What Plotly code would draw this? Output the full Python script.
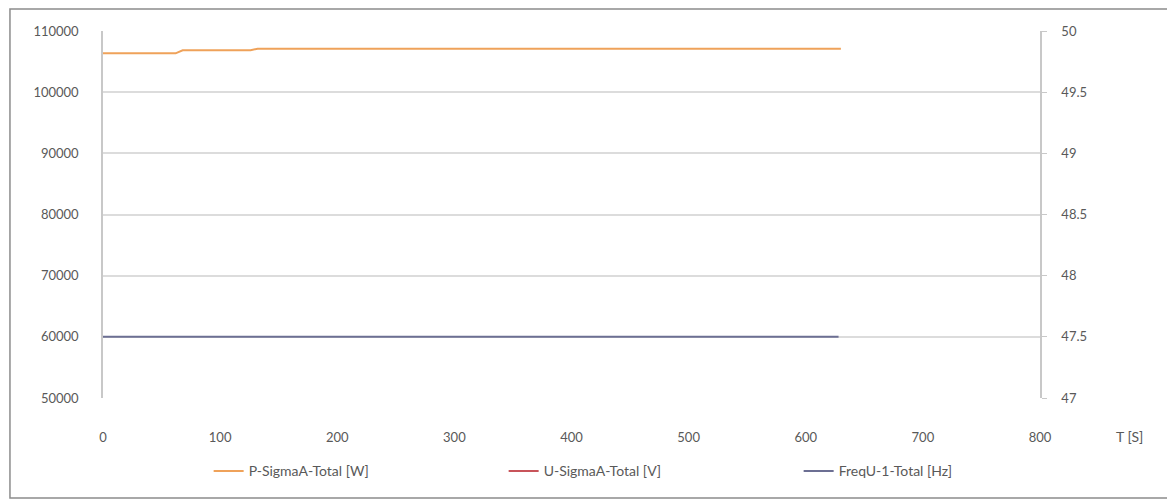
import plotly.graph_objects as go

# Data
time_p = [0, 62, 68, 126, 132, 630]
p_sigma = [106350, 106350, 106850, 106850, 107100, 107100]
time_u = [0, 630]
u_sigma = [230, 230]          # far below the left-axis range: not visible
time_f = [0, 628]
freq = [47.5, 47.5]

x_ticks = [0, 100, 200, 300, 400, 500, 600, 700, 800]
y1_ticks = [50000, 60000, 70000, 80000, 90000, 100000, 110000]
y1_labels = [str(v) for v in y1_ticks]
y2_ticks = [47, 47.5, 48, 48.5, 49, 49.5, 50]
y2_labels = ["47", "47.5", "48", "48.5", "49", "49.5", "50"]

font = "Lato, Open Sans, sans-serif"
tick_color = "#595959"

# page body adds an 8px offset; compensate
OFF = 8

fig = go.Figure()
fig.add_trace(go.Scatter(x=time_p, y=p_sigma, mode="lines", name="P-SigmaA-Total [W]",
                         line=dict(color="#EFA25A", width=2)))
fig.add_trace(go.Scatter(x=time_u, y=u_sigma, mode="lines", name="U-SigmaA-Total [V]",
                         line=dict(color="#C8545A", width=2)))
fig.add_trace(go.Scatter(x=time_f, y=freq, mode="lines", name="FreqU-1-Total [Hz]",
                         line=dict(color="#6C6F93", width=2), yaxis="y2"))

fig.update_layout(
    width=1175 - OFF, height=503 - OFF,
    margin=dict(l=103 - OFF, r=135, t=31 - OFF, b=105),
    paper_bgcolor="white", plot_bgcolor="white",
    font=dict(family=font, size=13, color=tick_color),
    showlegend=True,
    legend=dict(orientation="h", x=0.585, xanchor="center", y=-0.20, yanchor="middle",
                font=dict(size=14, color=tick_color),
                entrywidth=250, entrywidthmode="pixels",
                traceorder="normal"),
    xaxis=dict(range=[0, 800], tickvals=x_ticks, showgrid=False, zeroline=False,
               showline=False, ticks="", ticklabelstandoff=30,
               tickfont=dict(size=13, color=tick_color)),
    yaxis=dict(range=[50000, 110000], tickvals=y1_ticks, ticktext=y1_labels, showgrid=True,
               gridcolor="#DCDCDC", gridwidth=1.5, zeroline=False,
               showline=True, linecolor="#C8C8C8", linewidth=1.5, ticks="",
               ticklabelstandoff=20, tickfont=dict(size=13, color=tick_color)),
    yaxis2=dict(range=[47, 50], tickvals=y2_ticks, ticktext=y2_labels, overlaying="y", side="right",
                showgrid=False, zeroline=False, showline=True, linecolor="#C8C8C8",
                linewidth=1.5, ticks="outside", ticklen=5, tickcolor="#C8C8C8",
                ticklabelstandoff=12, tickfont=dict(size=13, color=tick_color)),
    annotations=[dict(text="T [S]", xref="paper", yref="paper", x=1.096, y=-0.106,
                      xanchor="center", yanchor="middle", showarrow=False,
                      font=dict(size=14, color=tick_color, family=font))],
    shapes=[dict(type="rect", xref="paper", yref="paper",
                 x0=-0.0993, x1=1.1366, y0=-0.2725, y1=1.060,
                 line=dict(color="#8C8C8C", width=1.5), fillcolor="rgba(0,0,0,0)",
                 layer="below")],
)

fig.write_html("out.html")
